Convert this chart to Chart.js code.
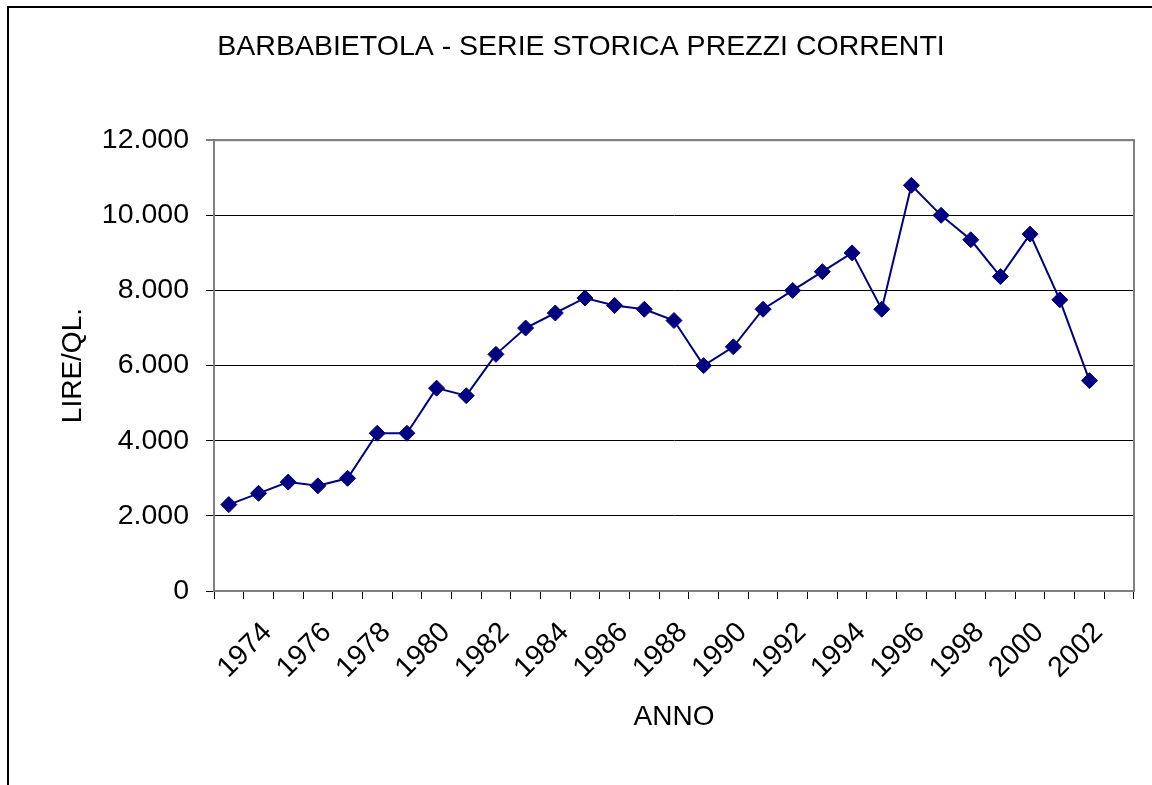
<!DOCTYPE html>
<html>
<head>
<meta charset="utf-8">
<script src="https://cdn.jsdelivr.net/npm/chart.js@4/dist/chart.umd.min.js"></script>
<style>
  body { margin: 0; background: #fff; }
  #frame { position: absolute; left: 7px; top: 6px; width: 1200px; height: 900px;
           border-left: 2px solid #000; border-top: 2px solid #000; }
  #myChart { position: absolute; left: 0; top: 0; }
</style>
</head>
<body>
<div id="frame"></div>
<canvas id="myChart" width="1152" height="785"></canvas>
<script>
// data
const years = [1973, 1974, 1975, 1976, 1977, 1978, 1979, 1980, 1981, 1982,
               1983, 1984, 1985, 1986, 1987, 1988, 1989, 1990, 1991, 1992,
               1993, 1994, 1995, 1996, 1997, 1998, 1999, 2000, 2001, 2002, 2003];
const tickLabels = years.map(y => (y % 2 === 0 ? String(y) : ''));
const prezzi = [2300, 2600, 2900, 2800, 3000, 4200, 4200, 5400, 5200, 6300,
                7000, 7400, 7800, 7600, 7500, 7200, 6000, 6500, 7500, 8000,
                8500, 9000, 7500, 10800, 10000, 9350, 8370, 9500, 7750, 5600, null];
const yTicks = [0, 2000, 4000, 6000, 8000, 10000, 12000];

const font = "'Liberation Sans', Arial, sans-serif";

function fmt(v) {
    return String(v).replace(/\B(?=(\d{3})+(?!\d))/g, '.');
}

// gray plot area border like excel
const plotBorder = {
    id: 'plotBorder',
    beforeDatasetsDraw(chart) {
        const a = chart.chartArea;
        const ctx = chart.ctx;
        ctx.save();
        ctx.strokeStyle = '#808080';
        ctx.lineWidth = 2;
        ctx.strokeRect(a.left, a.top, a.right - a.left, a.bottom - a.top);
        ctx.restore();
    }
};

const ctx = document.getElementById("myChart").getContext("2d");
new Chart(ctx, {
    type: "line",
    data: {
        labels: tickLabels,
        datasets: [
            {
                label: "Prezzi",
                data: prezzi,
                borderColor: "#000080",
                backgroundColor: "#000080",
                borderWidth: 2,
                pointStyle: "rectRot",
                pointRadius: 8,
                pointBorderWidth: 1,
                tension: 0
            }
        ]
    },
    options: {
        responsive: false,
        animation: false,
        layout: { padding: { top: 0, left: 28, right: 18, bottom: 0 } },
        plugins: {
            legend: { display: false },
            tooltip: { enabled: false },
            title: {
                display: true,
                text: "BARBABIETOLA - SERIE STORICA PREZZI CORRENTI",
                color: "#000",
                font: { family: font, size: 28.5, weight: "normal" },
                padding: { top: 30, bottom: 76 }
            }
        },
        scales: {
            x: {
                offset: true,
                grid: { offset: true, drawOnChartArea: false, tickLength: 8, color: "#000", lineWidth: 1 },
                border: { color: "#000", width: 1 },
                ticks: {
                    autoSkip: false,
                    maxRotation: 45,
                    minRotation: 45,
                    padding: 17,
                    labelOffset: 9,
                    color: "#000",
                    font: { family: font, size: 28.5 }
                },
                title: {
                    display: true,
                    text: "ANNO",
                    color: "#000",
                    font: { family: font, size: 28 },
                    padding: { top: 0, bottom: 51 }
                },
                afterFit: s => { s.height = 194; s.paddingLeft = 0; s.paddingRight = 0; }
            },
            y: {
                min: 0,
                max: 12000,
                afterBuildTicks: s => { s.ticks = yTicks.map(v => ({ value: v })); },
                grid: {
                    color: c => (c.tick && c.tick.value === 12000 ? "#808080" : "#000"),
                    lineWidth: c => (c.tick && c.tick.value === 12000 ? 2 : 1),
                    tickLength: 8
                },
                border: { color: "#333", width: 2 },
                ticks: {
                    padding: 17,
                    color: "#000",
                    font: { family: font, size: 28.5 },
                    callback: v => fmt(v)
                },
                title: {
                    display: true,
                    text: "LIRE/QL.",
                    color: "#000",
                    font: { family: font, size: 28 },
                    padding: { top: 28, bottom: 0 }
                },
                afterFit: s => { s.width = 186; }
            }
        }
    },
    plugins: [plotBorder]
});
</script>
</body>
</html>
